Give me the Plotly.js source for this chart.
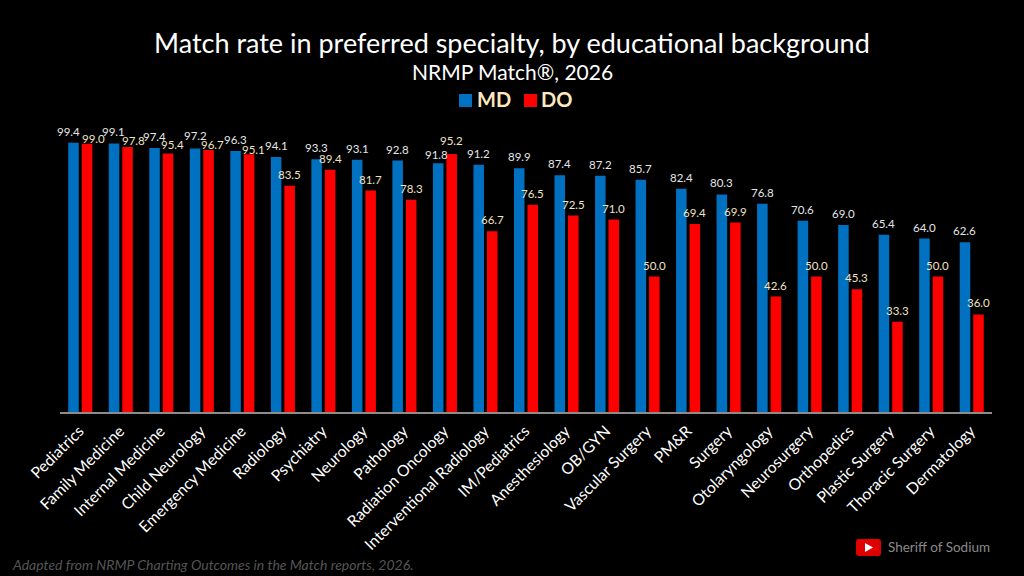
<!DOCTYPE html>
<html>
<head>
<meta charset="utf-8">
<script src="https://cdn.plot.ly/plotly-3.0.1.min.js"></script>
<style>
  html, body { margin: 0; padding: 0; background: #000; }
  #chart { width: 1024px; height: 576px; }
</style>
</head>
<body>
<div id="chart"></div>
<script>
const specialties = ["Pediatrics", "Family Medicine", "Internal Medicine", "Child Neurology",
  "Emergency Medicine", "Radiology", "Psychiatry", "Neurology", "Pathology", "Radiation Oncology",
  "Interventional Radiology", "IM/Pediatrics", "Anesthesiology", "OB/GYN", "Vascular Surgery",
  "PM&R", "Surgery", "Otolaryngology", "Neurosurgery", "Orthopedics", "Plastic Surgery",
  "Thoracic Surgery", "Dermatology"];
const mdRates = [99.4, 99.1, 97.4, 97.2, 96.3, 94.1, 93.3, 93.1, 92.8, 91.8, 91.2, 89.9,
  87.4, 87.2, 85.7, 82.4, 80.3, 76.8, 70.6, 69.0, 65.4, 64.0, 62.6];
const doRates = [99.0, 97.8, 95.4, 96.7, 95.1, 83.5, 89.4, 81.7, 78.3, 95.2, 66.7, 76.5,
  72.5, 71.0, 50.0, 69.4, 69.9, 42.6, 50.0, 45.3, 33.3, 50.0, 36.0];

// labels pushed around in the crowded groups so they don't collide
const mdNudge = { 0: -5, 1: -1, 9: -2 };
const mdDrop = { 3: -2, 9: 3 };
const doNudge = { 0: 6, 1: 6, 2: 4, 3: 4, 4: 4 };
const doDrop = { 0: 6, 1: 5, 2: 3, 3: 6, 4: 7, 9: -2 };

const FONT = "Lato, 'Open Sans', sans-serif";
const MD_BLUE = "#0070C0", DO_RED = "#FF0000", CREAM = "#FFE8C0";
const slot = 13.5; // distance between the two bar centres in a group

function rateLabels(rates, side, nudge, drop, color) {
  return rates.map((v, i) => ({
    x: specialties[i], y: v, xref: "x", yref: "y",
    text: v.toFixed(1), showarrow: false, yanchor: "bottom",
    xshift: side * slot / 2 + (nudge[i] || 0), yshift: 3 - (drop[i] || 0),
    font: { family: FONT, size: 11.5, color }
  }));
}

// paper-anchored text, offsets in px from the plot corners
function note(text, x, y, xshift, yshift, xanchor, size, color) {
  return { xref: "paper", yref: "paper", x, y, xshift, yshift, xanchor, text, showarrow: false,
    font: { family: FONT, size, color } };
}

function square(left, color) {
  return { type: "rect", xref: "paper", yref: "paper", xsizemode: "pixel", ysizemode: "pixel", xanchor: 0, yanchor: 0,
    x0: left, x1: left + 13, y0: 305, y1: 318, fillcolor: color, line: { width: 0 } };
}

const traces = [
  { type: "bar", name: "MD", x: specialties, y: mdRates, marker: { color: MD_BLUE }, hoverinfo: "x+y" },
  { type: "bar", name: "DO", x: specialties, y: doRates, marker: { color: DO_RED }, hoverinfo: "x+y" }
];

const notes = [
  note("Match rate in preferred specialty, by educational background", 0.5, 1, -14, 117, "center", 27, "#fff"),
  note("NRMP Match®, 2026", 0.5, 1, -14, 84, "center", 21, "#fff"),
  note("<b>MD</b>", 0, 1, 415, 56, "left", 20, CREAM),
  note("<b>DO</b>", 0, 1, 479, 56, "left", 20, CREAM),
  note("<i>Adapted from NRMP Charting Outcomes in the Match reports, 2026.</i>", 0, 0, -50, -163, "left", 14, "#555"),
  note("Sheriff of Sodium", 1, 0, 0, -145, "right", 13.5, "#8a8a8a")
];

const layout = {
  width: 1024, height: 576,
  margin: { l: 60, r: 32, t: 141.4, b: 164 },
  paper_bgcolor: "#000", plot_bgcolor: "#000",
  barmode: "group", bargap: 0.333, bargroupgap: 0.22,
  showlegend: false,
  xaxis: {
    type: "category", range: [-0.5, 22.5], tickangle: -45, ticks: "", ticklabelstandoff: 2, ticklabelshift: -1,
    tickfont: { family: FONT, size: 15.7, color: "#fff" },
    showgrid: false, zeroline: false, showline: true, linecolor: "#8c8c8c", linewidth: 1.5
  },
  yaxis: { range: [0, 100], visible: false, fixedrange: true },
  annotations: notes.concat(rateLabels(mdRates, -1, mdNudge, mdDrop, "#e4e6e8"), rateLabels(doRates, 1, doNudge, doDrop, "#f3e2c6")),
  shapes: [
    square(399, MD_BLUE),
    square(464, DO_RED),
    { type: "path", xref: "paper", yref: "paper", xsizemode: "pixel", ysizemode: "pixel", xanchor: 1, yanchor: 0,
      path: "M -133 -127 L -114 -127 Q -111 -127 -111 -130 L -111 -141 Q -111 -144 -114 -144 L -133 -144 Q -136 -144 -136 -141 L -136 -130 Q -136 -127 -133 -127 Z",
      fillcolor: "#E00000", line: { width: 0 } },
    { type: "path", xref: "paper", yref: "paper", xsizemode: "pixel", ysizemode: "pixel", xanchor: 1, yanchor: 0,
      path: "M -127 -131 L -127 -140 L -119 -135.5 Z", fillcolor: "#fff", line: { width: 0 } }
  ]
};

Plotly.newPlot("chart", traces, layout, { displayModeBar: false, responsive: false });
</script>
</body>
</html>
